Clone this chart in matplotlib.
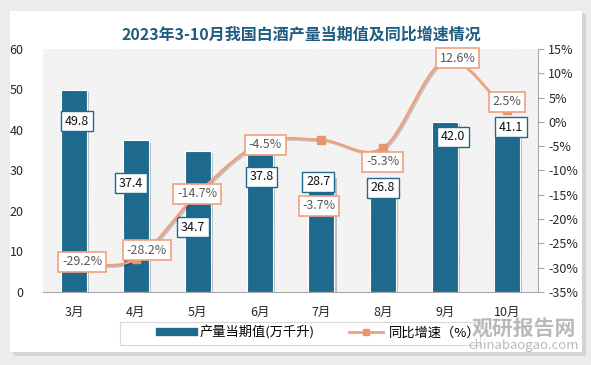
import matplotlib.pyplot as plt
import matplotlib.patches as patches
import matplotlib.patheffects as pe
from matplotlib.lines import Line2D
import numpy as np

plt.rcParams['font.family'] = ['Noto Sans CJK SC', 'DejaVu Sans']
plt.rcParams['hatch.linewidth'] = 0.4
plt.rcParams['hatch.color'] = '#d6d6d6'

months = ['3月', '4月', '5月', '6月', '7月', '8月', '9月', '10月']
output = [49.8, 37.4, 34.7, 37.8, 28.7, 26.8, 42.0, 41.1]
growth = [-29.2, -28.2, -14.7, -4.5, -3.7, -5.3, 12.6, 2.5]

# where the value boxes sit (style only)
bar_lab_x = [0.05, 0.92, 1.92, 3.03, 3.95, 4.99, 6.13, 7.06]
bar_lab_y = [42.2, 26.9, 16.0, 28.4, 27.2, 25.7, 38.3, 40.7]
line_lab_x = [0.13, 1.18, 1.99, 3.09, 3.96, 4.99, 6.2, 7.0]
line_lab_y = [-28.8, -26.4, -14.8, -4.75, -17.3, -8.25, 13.1, 4.1]

bar_col = '#1d6a8e'
line_col = '#f0a07c'

def smooth(xs, ys, n=30):
    # catmull-rom curve through the points, only for drawing
    xs = np.asarray(xs, float)
    ys = np.asarray(ys, float)
    px = np.concatenate([[2*xs[0]-xs[1]], xs, [2*xs[-1]-xs[-2]]])
    py = np.concatenate([[2*ys[0]-ys[1]], ys, [2*ys[-1]-ys[-2]]])
    ox, oy = [], []
    t = np.linspace(0, 1, n)
    for i in range(1, len(px)-2):
        for p, o in ((px, ox), (py, oy)):
            p0, p1, p2, p3 = p[i-1], p[i], p[i+1], p[i+2]
            o.extend(0.5*((2*p1) + (-p0+p2)*t + (2*p0-5*p1+4*p2-p3)*t**2 + (-p0+3*p1-3*p2+p3)*t**3))
    return np.array(ox), np.array(oy)

fig = plt.figure(figsize=(5.91, 3.65), dpi=100, facecolor='#ececec')
# white panel with soft shadow
for i, c in enumerate(['#e4e4e4', '#dcdcdc', '#d4d4d4']):
    fig.patches.append(patches.Rectangle((0.017+0.002*(i+1), 0.035-0.003*(i+1)), 0.968, 0.935,
                                         transform=fig.transFigure, facecolor=c, edgecolor='none', zorder=-3+i))
fig.patches.append(patches.Rectangle((0.017, 0.035), 0.968, 0.935, transform=fig.transFigure,
                                     facecolor='white', edgecolor='none', zorder=-0.5))

ax = fig.add_axes([0.0728, 0.2, 0.8375, 0.666])
ax.set_facecolor('white')
ax.patch.set_hatch('\\' * 12)
ax.patch.set_edgecolor('#d6d6d6')
ax.patch.set_linewidth(0)

x = np.arange(len(months))
ax.bar(x, output, width=0.42, color=bar_col, edgecolor='white', linewidth=0.8, zorder=2,
       path_effects=[pe.SimplePatchShadow(offset=(1.5, -1.5), alpha=0.25), pe.Normal()])
ax.set_xlim(-0.5, len(months)-0.5)
ax.set_ylim(0, 60)
ax.set_yticks(range(0, 61, 10))
ax.set_xticks(x)
ax.set_xticklabels(months)
ax.tick_params(axis='y', length=0, labelsize=9, colors='#262626', pad=14)
ax.tick_params(axis='x', length=0, labelsize=9, colors='#262626', pad=10)
for s in ['top', 'left', 'right']:
    ax.spines[s].set_visible(False)
ax.spines['bottom'].set_color('#a6a6a6')

for xi, yi, v in zip(bar_lab_x, bar_lab_y, output):
    ax.text(xi, yi, f'{v:.1f}', ha='center', va='center', fontsize=9, color='#111111', zorder=6,
            bbox=dict(boxstyle='square,pad=0.3', facecolor='white', edgecolor=bar_col, linewidth=1))

ax2 = ax.twinx()
ax2.set_ylim(-35, 15)
ax2.set_yticks(range(-35, 16, 5))
ax2.set_yticklabels([f'{v}%' for v in range(-35, 16, 5)])
ax2.tick_params(axis='y', length=4, labelsize=9, colors='#262626', color='#a6a6a6')
for s in ['top', 'left', 'bottom']:
    ax2.spines[s].set_visible(False)
ax2.spines['right'].set_color('#a6a6a6')

sx, sy = smooth(x, growth)
ax2.plot(sx, sy, color=line_col, linewidth=1.8, zorder=3,
         path_effects=[pe.SimpleLineShadow(offset=(1, -1), alpha=0.2), pe.Normal()])
ax2.plot(x, growth, linestyle='none', marker='s', markersize=6, color='#e8956e', zorder=4)

for xi, yi, v in zip(line_lab_x, line_lab_y, growth):
    ax2.text(xi, yi, f'{v:.1f}%', ha='center', va='center', fontsize=9, color='#595959', zorder=6,
             bbox=dict(boxstyle='square,pad=0.3', facecolor='white', edgecolor=line_col, linewidth=1.2))

fig.text(0.51, 0.904, '2023年3-10月我国白酒产量当期值及同比增速情况', ha='center', va='center',
         fontsize=11.5, fontweight='bold', color='#1f5c80')

# legend box drawn by hand, legend itself without frame
fig.patches.append(patches.Rectangle((120/591, 1-345/365), 360/591, 23/365, transform=fig.transFigure,
                                     facecolor='white', edgecolor='#d9d9d9', linewidth=0.8, zorder=1))
h1 = Line2D([], [], color=bar_col, linewidth=6)
h2 = Line2D([], [], color=line_col, marker='s', markersize=5, markerfacecolor='#e8956e',
            markeredgecolor='#e8956e', linewidth=2)
leg = fig.legend([h1, h2], ['产量当期值(万千升)', '同比增速（%）'], loc='center left',
                 bbox_to_anchor=(148/591, 1-333/365), ncol=2, frameon=False,
                 fontsize=9.5, handlelength=2.6, handletextpad=0.4, columnspacing=2.6)

fig.text(472/591, 1-328/365, '观研报告网', fontsize=15, fontweight='bold', color='#a8a8a8',
         va='center', alpha=0.8, zorder=5)
fig.text(468/591, 1-346/365, 'chinabaogao.com', fontsize=9.5, color='#a8a8a8', va='center',
         alpha=0.8, zorder=5)

fig.savefig('out.png', dpi=100, facecolor=fig.get_facecolor())
